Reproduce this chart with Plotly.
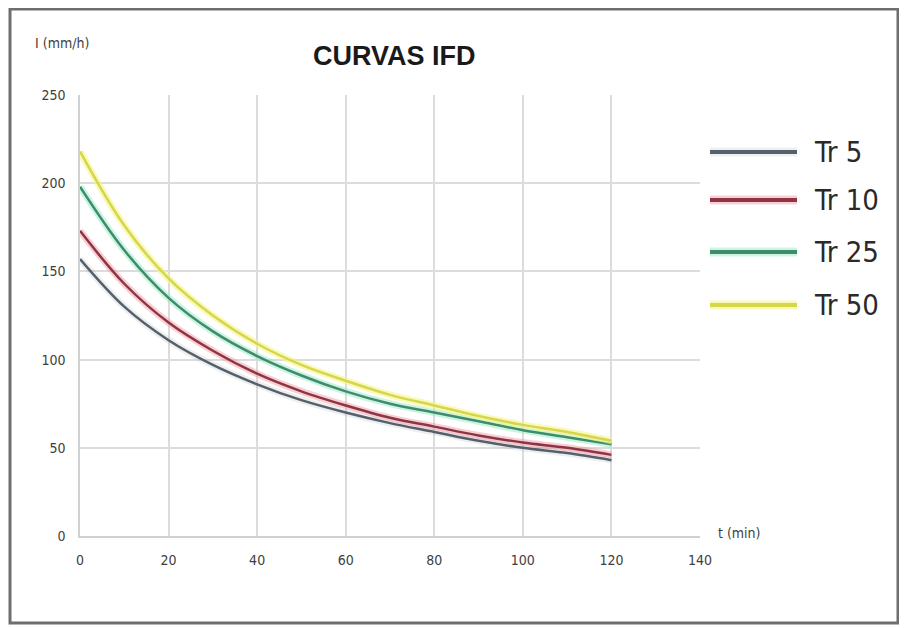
import plotly.graph_objects as go

# Data
t_min = [0, 10, 20, 30, 40, 50, 60, 70, 80, 90, 100, 110, 120]
tr5 = [157, 130, 111, 97, 86, 77, 70, 64, 59, 54, 50, 47, 43]
tr10 = [173, 143, 121, 105, 92, 82, 74, 67, 62, 57, 53, 50, 46]
tr25 = [198, 162, 135, 116, 102, 91, 82, 75, 70, 65, 60, 56, 52]
tr50 = [218, 176, 146, 125, 109, 97, 88, 80, 74, 68, 63, 59, 54]
series_names = ["Tr 5", "Tr 10", "Tr 25", "Tr 50"]
series_values = [tr5, tr10, tr25, tr50]
line_colors = ["#55606a", "#8e3444", "#3f8c6c", "#d6d64a"]
halo_colors = ["rgba(160,170,180,0.2)", "rgba(240,150,160,0.45)",
               "rgba(140,230,190,0.45)", "rgba(245,245,140,0.6)"]
x_ticks = [0, 20, 40, 60, 80, 100, 120, 140]
y_ticks = [0, 50, 100, 150, 200, 250]

OFF = 8  # default page body margin
W, H = 907 - OFF, 628 - OFF
L, T = 80 - OFF, 95 - OFF
R = W - (700 - OFF)
B = H - (536 - OFF)
pw, ph = W - L - R, H - T - B

def px2paper_x(px):
    return (px - OFF - L) / pw

def py2paper_y(py):
    return (H - B - (py - OFF)) / ph

fig = go.Figure()
for name, vals, col, halo in zip(series_names, series_values, line_colors, halo_colors):
    fig.add_trace(go.Scatter(x=t_min, y=vals, mode="lines", line=dict(color=halo, width=7, shape="spline"),
                             hoverinfo="skip", showlegend=False))
    fig.add_trace(go.Scatter(x=t_min, y=vals, mode="lines", name=name,
                             line=dict(color=col, width=2.5, shape="spline"), showlegend=False))

tick_font = dict(family="DejaVu Sans Condensed, Liberation Sans Narrow, sans-serif", size=14, color="#3e3e3e")
fig.update_xaxes(range=[0, 140], tickvals=x_ticks, ticktext=[str(v) for v in x_ticks],
                 showgrid=True, gridcolor="#dcdcdc", gridwidth=1.5, zeroline=False,
                 showline=True, linecolor="#d0d0d0", linewidth=1.5, tickfont=tick_font, ticks="",
                 ticklabelstandoff=10)
fig.update_yaxes(range=[0, 250], tickvals=y_ticks, ticktext=[str(v) for v in y_ticks],
                 showgrid=True, gridcolor="#dcdcdc", gridwidth=1.5, zeroline=False,
                 showline=True, linecolor="#d0d0d0", linewidth=1.5, tickfont=tick_font, ticks="",
                 ticklabelstandoff=10)

annotations = [
    dict(text="<b>CURVAS IFD</b>", x=px2paper_x(394), y=py2paper_y(56), xref="paper", yref="paper",
         showarrow=False, xanchor="center", yanchor="middle",
         font=dict(family="Liberation Sans, Arial, sans-serif", size=27, color="#1a1a1a")),
    dict(text="I (mm/h)", x=px2paper_x(33), y=py2paper_y(43), xref="paper", yref="paper",
         showarrow=False, xanchor="left", yanchor="middle", font=tick_font),
    dict(text="t (min)", x=px2paper_x(716), y=py2paper_y(533), xref="paper", yref="paper",
         showarrow=False, xanchor="left", yanchor="middle", font=tick_font),
]
shapes = [
    dict(type="rect", xref="paper", yref="paper", x0=px2paper_x(10), x1=px2paper_x(898),
         y0=py2paper_y(623), y1=py2paper_y(9), line=dict(color="#6e6e6e", width=3),
         fillcolor="rgba(0,0,0,0)", layer="below"),
]
legend_y = [152, 200, 252, 305]
for name, col, halo, ly in zip(series_names, line_colors, halo_colors, legend_y):
    shapes.append(dict(type="line", xref="paper", yref="paper", x0=px2paper_x(710), x1=px2paper_x(797),
                       y0=py2paper_y(ly), y1=py2paper_y(ly), line=dict(color=halo, width=9)))
    shapes.append(dict(type="line", xref="paper", yref="paper", x0=px2paper_x(710), x1=px2paper_x(797),
                       y0=py2paper_y(ly), y1=py2paper_y(ly), line=dict(color=col, width=4)))
    annotations.append(dict(text=name, x=px2paper_x(812), y=py2paper_y(ly), xref="paper", yref="paper",
                            showarrow=False, xanchor="left", yanchor="middle",
                            font=dict(family="DejaVu Sans Condensed, Liberation Sans Narrow, sans-serif",
                                      size=29, color="#2a2a2a")))

fig.update_layout(width=W, height=H, margin=dict(l=L, r=R, t=T, b=B),
                  paper_bgcolor="white", plot_bgcolor="white",
                  annotations=annotations, shapes=shapes, showlegend=False)

fig.write_html("out.html")
